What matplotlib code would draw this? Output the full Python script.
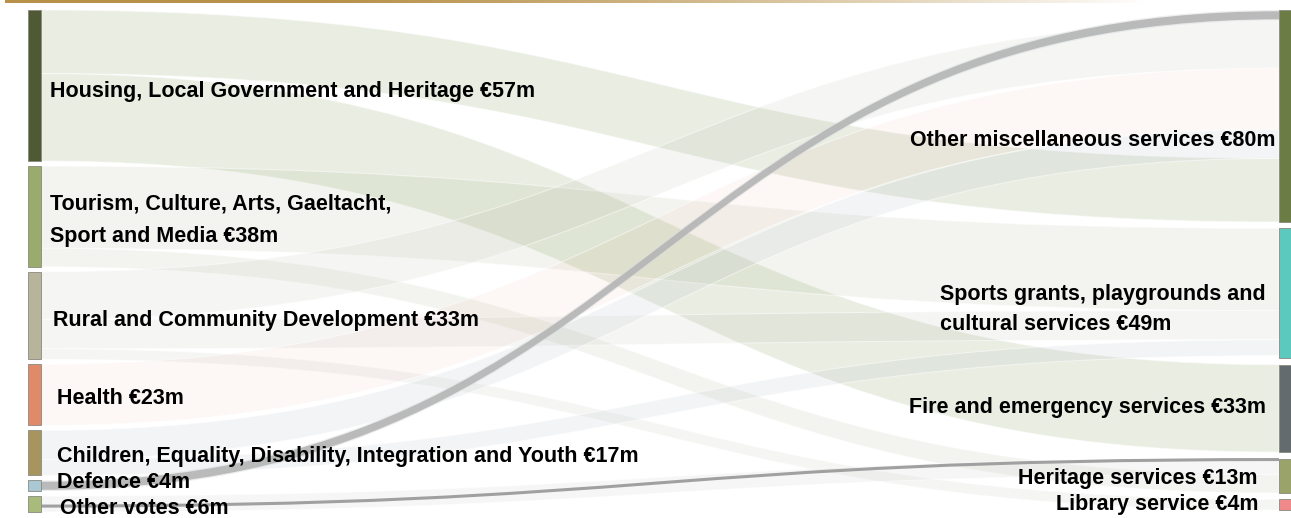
import numpy as np
import matplotlib
matplotlib.use("Agg")
import matplotlib.pyplot as plt
from matplotlib.path import Path
from matplotlib.patches import PathPatch, Rectangle
from matplotlib.colors import to_rgba

plt.rcParams['font.family'] = ['Liberation Sans', 'DejaVu Sans']

# ---------------- data ----------------
source_names = ["Housing, Local Government and Heritage",
                "Tourism, Culture, Arts, Gaeltacht,\nSport and Media",
                "Rural and Community Development",
                "Health",
                "Children, Equality, Disability, Integration and Youth",
                "Defence",
                "Other votes"]
source_values = [57, 38, 33, 23, 17, 4, 6]
source_colors = ["#4f5a34", "#9aab6e", "#b8b49c", "#e08a6a", "#a8945e", "#a9c8d4", "#a8bb7a"]

target_names = ["Other miscellaneous services",
                "Sports grants, playgrounds and\ncultural services",
                "Fire and emergency services",
                "Heritage services",
                "Library service"]
target_values = [80, 49, 33, 13, 4]
target_colors = ["#6b7c45", "#5cc9be", "#636b6e", "#9aa46a", "#f08a8a"]

# links (source index, target index, value), listed in source order top->bottom
link_source = [0, 0, 1, 1, 2, 2, 2, 3, 4, 4, 5, 6]
link_target = [0, 2, 1, 3, 0, 1, 4, 0, 0, 1, 0, 3]
link_value  = [24, 33, 31, 7, 18, 11, 4, 23, 11, 6, 4, 6]
# order of incoming links at each target (by link index), top->bottom
target_order = {0: [10, 4, 7, 8, 0], 1: [2, 5, 9], 2: [1], 3: [11, 3], 4: [6]}

# ribbon tint per source (colour, alpha)
ribbon_style = [("#93a86e", 0.20), ("#a3b184", 0.13), ("#b3b3a8", 0.12), ("#e8a088", 0.08),
                ("#a9b0bc", 0.13), ("#b2b2b2", 0.85), ("#c8c8c8", 0.15)]

# ---------------- layout ----------------
W, H = 1291, 518
scale = 2.65
lx0, lx1 = 28, 41
rx0, rx1 = 1279, 1291
ltop, lbot = 10, 512
rtop, rbot = 10, 510

fig = plt.figure(figsize=(W / 100, H / 100), dpi=100)
ax = fig.add_axes([0, 0, 1, 1])
ax.set_xlim(0, W)
ax.set_ylim(H, 0)
ax.axis('off')

def stack(values, top, bot):
    total = sum(values) * scale
    gap = (bot - top - total) / (len(values) - 1)
    ys = []
    y = top
    for v in values:
        ys.append(y)
        y += v * scale + gap
    return ys

ly = stack(source_values, ltop, lbot)
ry = stack(target_values, rtop, rbot)

link_y0 = {}
offs = {i: ly[i] for i in range(len(source_values))}
for k, (s, v) in enumerate(zip(link_source, link_value)):
    link_y0[k] = offs[s]
    offs[s] += v * scale
link_y1 = {}
for t, order in target_order.items():
    y = ry[t]
    for k in order:
        link_y1[k] = y
        y += link_value[k] * scale

# top gold gradient rule
grad = np.zeros((1, 400, 4))
c = to_rgba("#b8914a")
grad[..., :3] = c[:3]
grad[0, :, 3] = np.clip(1.15 - np.linspace(0, 1, 400) ** 1.6 * 1.15, 0, 1)
ax.imshow(grad, extent=[5, 1150, 3, 0], aspect='auto', zorder=5, interpolation='bilinear')

xm = (lx1 + rx0) / 2

def ribbon(y0a, y0b, y1a, y1b):
    verts = [(lx1, y0a), (xm, y0a), (xm, y1a), (rx0, y1a),
             (rx0, y1b), (xm, y1b), (xm, y0b), (lx1, y0b), (lx1, y0a)]
    codes = [Path.MOVETO, Path.CURVE4, Path.CURVE4, Path.CURVE4,
             Path.LINETO, Path.CURVE4, Path.CURVE4, Path.CURVE4, Path.CLOSEPOLY]
    return Path(verts, codes)

for k in range(len(link_value)):
    s, t, v = link_source[k], link_target[k], link_value[k]
    y0a = link_y0[k]; y0b = y0a + v * scale
    y1a = link_y1[k]; y1b = y1a + v * scale
    col, al = ribbon_style[s]
    if s == 5:
        # thinner core band for the highlighted grey ribbon
        m0 = (y0a + y0b) / 2; m1 = (y1a + y1b) / 2; hw = v * scale * 0.38
        ax.add_patch(PathPatch(ribbon(y0a, y0b, y1a, y1b), facecolor=to_rgba("#d8dde0", 0.5),
                               edgecolor='none', zorder=1))
        ax.add_patch(PathPatch(ribbon(m0 - hw, m0 + hw, m1 - hw, m1 + hw),
                               facecolor=to_rgba(col, al), edgecolor='none', zorder=2))
        continue
    ax.add_patch(PathPatch(ribbon(y0a, y0b, y1a, y1b), facecolor=to_rgba(col, al),
                           edgecolor=to_rgba("white", 0.5), lw=0.8, zorder=1))
    if s == 6:
        top_edge = Path([(lx1, y0a + 10), (xm, y0a + 10), (xm, y1a + 1), (rx0, y1a + 1)],
                        [Path.MOVETO, Path.CURVE4, Path.CURVE4, Path.CURVE4])
        ax.add_patch(PathPatch(top_edge, facecolor='none', edgecolor='#a0a0a0', lw=2.2, zorder=2))

# nodes
for i, v in enumerate(source_values):
    ax.add_patch(Rectangle((lx0, ly[i]), lx1 - lx0, v * scale, facecolor=source_colors[i],
                           edgecolor='#8a8a80', lw=0.6, zorder=3))
for i, v in enumerate(target_values):
    ax.add_patch(Rectangle((rx0, ry[i]), rx1 - rx0, v * scale, facecolor=target_colors[i],
                           edgecolor='#8a8a80', lw=0.6, zorder=3))

fs = 15.5
left_dy = [6, 4, 5, 4, 4, -3, 4]
left_dx = [9, 9, 12, 16, 16, 16, 19]
for i, (n, v) in enumerate(zip(source_names, source_values)):
    yc = ly[i] + v * scale / 2 + left_dy[i]
    ax.text(lx1 + left_dx[i], yc, f"{n} €{v}m", ha='left', va='center', fontsize=fs,
            fontweight='bold', color='black', linespacing=1.75, zorder=6)

right_dy = [24, 16, -1, 3, 0]
right_dx = [4, 13, 13, 22, 21]
for i, (n, v) in enumerate(zip(target_names, target_values)):
    yc = ry[i] + v * scale / 2 + right_dy[i]
    ax.text(rx0 - right_dx[i], yc, f"{n} €{v}m", ha='right', va='center', fontsize=fs,
            fontweight='bold', color='black', linespacing=1.6, zorder=6,
            multialignment='left')

fig.savefig("out.png", dpi=100, facecolor='white')
